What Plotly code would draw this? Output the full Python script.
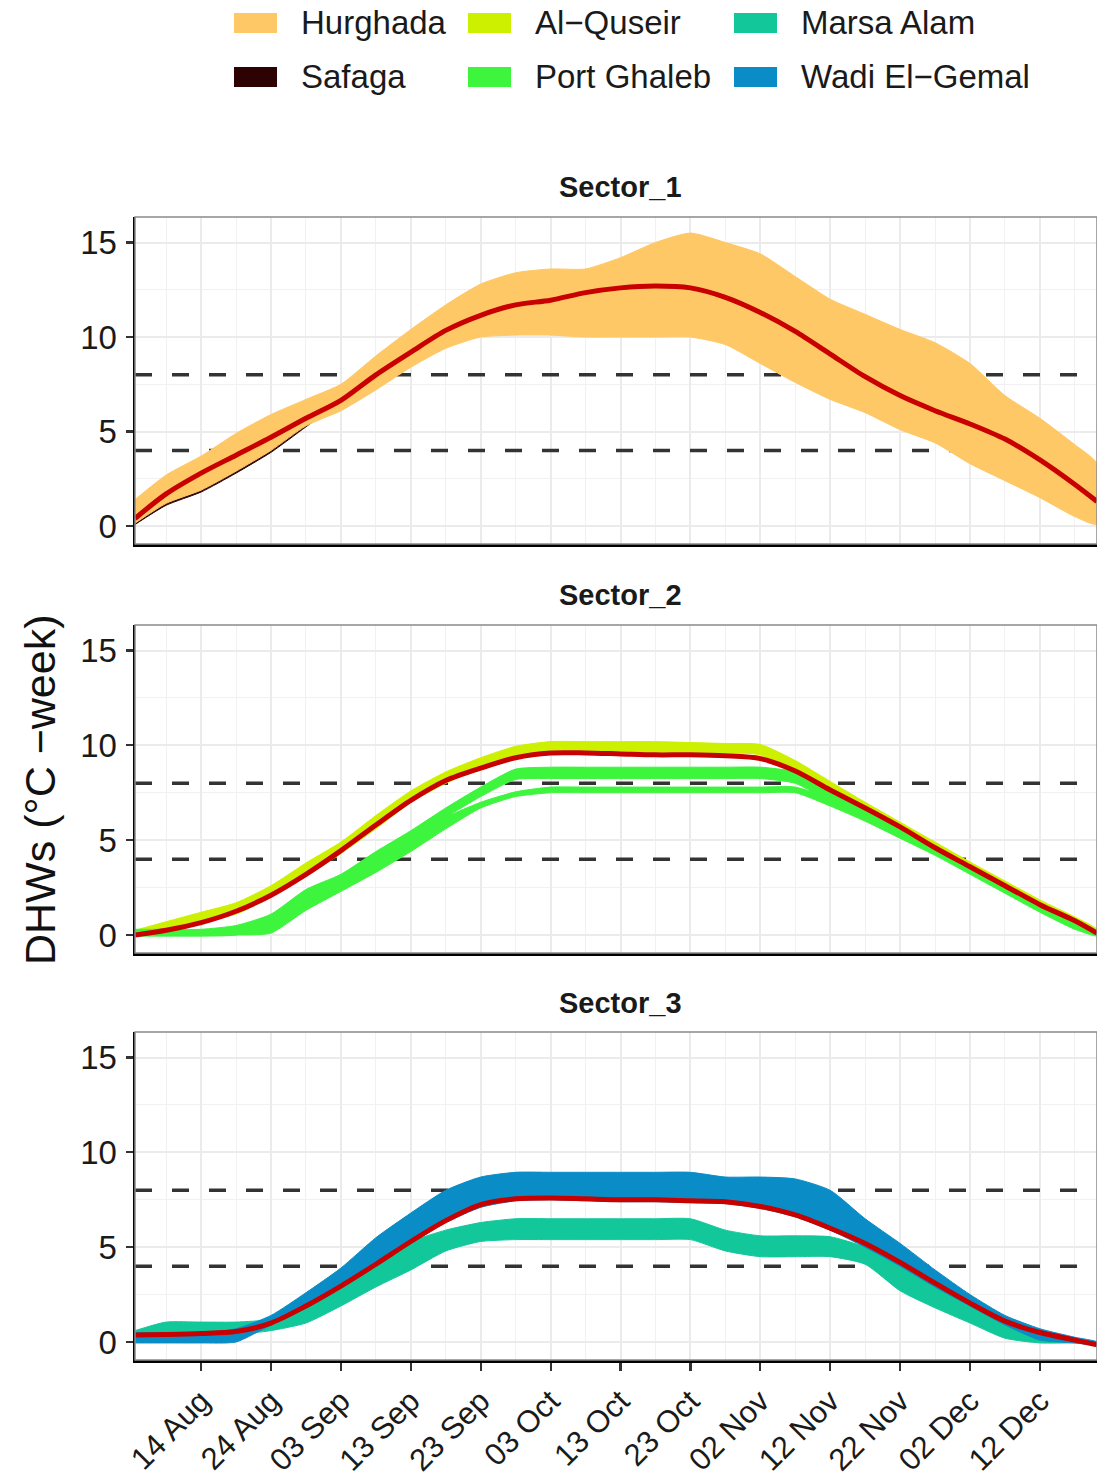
import plotly.graph_objects as go

# ---------------- data ----------------
DATES = ["2020-08-04 13:00", "2020-08-09", "2020-08-14", "2020-08-19", "2020-08-24",
         "2020-08-29", "2020-09-03", "2020-09-08", "2020-09-13", "2020-09-18",
         "2020-09-23", "2020-09-28", "2020-10-03", "2020-10-08", "2020-10-13",
         "2020-10-18", "2020-10-23", "2020-10-28", "2020-11-02", "2020-11-07",
         "2020-11-12", "2020-11-17", "2020-11-22", "2020-11-27", "2020-12-02",
         "2020-12-07", "2020-12-12", "2020-12-17", "2020-12-20 04:00"]

SITES = ["Hurghada", "Safaga", "Al-Quseir", "Port Ghaleb", "Marsa Alam", "Wadi El-Gemal"]
SITE_LABELS = ["Hurghada", "Safaga", "Al\u2212Quseir", "Port Ghaleb", "Marsa Alam", "Wadi El\u2212Gemal"]
SITE_COLORS = ["#FEC866", "#2E0202", "#CDF000", "#3DF53D", "#12C89B", "#0A8CC6"]

SECTORS = ["Sector_1", "Sector_2", "Sector_3"]
THRESHOLDS = [4, 8]
Y_TICKS = [0, 5, 10, 15]
Y_MINOR = [2.5, 7.5, 12.5]
X_TICKS = ["2020-08-14", "2020-08-24", "2020-09-03", "2020-09-13", "2020-09-23",
           "2020-10-03", "2020-10-13", "2020-10-23", "2020-11-02", "2020-11-12",
           "2020-11-22", "2020-12-02", "2020-12-12"]
X_TICK_TEXT = ["14 Aug", "24 Aug", "03 Sep", "13 Sep", "23 Sep", "03 Oct", "13 Oct",
               "23 Oct", "02 Nov", "12 Nov", "22 Nov", "02 Dec", "12 Dec"]

# Sector_1
HURGHADA_LO = [0.15, 1.2, 1.9, 2.9, 4.0, 5.3, 6.1, 7.2, 8.4, 9.4, 10.0, 10.1, 10.1, 10.0, 10.0,
               10.0, 10.0, 9.6, 8.6, 7.6, 6.7, 6.0, 5.1, 4.4, 3.3, 2.4, 1.5, 0.5, 0.1]
HURGHADA_HI = [1.4, 2.7, 3.7, 4.9, 5.9, 6.7, 7.5, 9.0, 10.4, 11.7, 12.8, 13.4, 13.6, 13.6, 14.2,
               15.0, 15.5, 15.0, 14.4, 13.2, 12.0, 11.2, 10.4, 9.7, 8.6, 6.9, 5.7, 4.3, 3.3]
SAFAGA_LO = [0.08, 1.1, 1.8, 2.8, 3.9, 5.25, 6.6, 7.7, 8.9, 9.9, 10.3, 10.4, 10.4, 10.4, 10.4,
             10.4, 10.4, 10.0, 9.0, 8.0, 7.1, 6.4, 5.5, 4.8, 3.7, 2.8, 1.9, 0.9, 0.4]
SAFAGA_HI = [0.35, 1.3, 2.0, 3.0, 4.1, 5.45, 6.9, 8.0, 9.2, 10.2, 10.6, 10.7, 10.7, 10.7, 10.7,
             10.7, 10.7, 10.3, 9.3, 8.3, 7.4, 6.7, 5.8, 5.1, 4.0, 3.1, 2.2, 1.2, 0.7]
MEAN_S1 = [0.4, 1.7, 2.8, 3.75, 4.7, 5.7, 6.65, 8.0, 9.2, 10.35, 11.15, 11.7, 11.95, 12.35, 12.6,
           12.7, 12.6, 12.1, 11.3, 10.3, 9.1, 7.9, 6.9, 6.1, 5.4, 4.6, 3.5, 2.2, 1.3]

# Sector_2
ALQUSEIR_LO = [0.0, 0.3, 0.7, 1.1, 2.0, 3.1, 4.3, 5.6, 7.0, 8.0, 8.8, 9.4, 9.6, 9.6, 9.6,
               9.6, 9.6, 9.6, 9.5, 8.5, 7.6, 6.5, 5.5, 4.4, 3.4, 2.4, 1.4, 0.55, 0.0]
ALQUSEIR_HI = [0.25, 0.7, 1.2, 1.7, 2.6, 3.8, 4.9, 6.3, 7.6, 8.6, 9.35, 9.95, 10.2, 10.2, 10.2,
               10.2, 10.15, 10.1, 10.05, 9.2, 8.1, 7.0, 5.95, 4.9, 3.85, 2.85, 1.85, 0.95, 0.3]
PORTGHALEB_A_LO = [-0.05, -0.05, -0.05, 0.0, 0.6, 1.8, 2.8, 3.9, 5.0, 6.2, 7.3, 8.2, 8.25, 8.25, 8.25,
                   8.25, 8.25, 8.25, 8.25, 8.0, 7.0, 6.1, 5.2, 4.3, 3.3, 2.3, 1.3, 0.5, 0.0]
PORTGHALEB_A_HI = [0.3, 0.3, 0.3, 0.5, 1.1, 2.4, 3.2, 4.4, 5.5, 6.7, 7.8, 8.75, 8.85, 8.85, 8.85,
                   8.85, 8.85, 8.85, 8.85, 8.6, 7.6, 6.7, 5.7, 4.7, 3.6, 2.6, 1.6, 0.8, 0.2]
PORTGHALEB_B_LO = [-0.05, -0.05, -0.05, 0.0, 0.1, 1.3, 2.3, 3.3, 4.4, 5.6, 6.7, 7.3, 7.5, 7.5, 7.5,
                   7.5, 7.5, 7.5, 7.5, 7.5, 6.8, 6.0, 5.1, 4.2, 3.2, 2.2, 1.2, 0.3, -0.05]
PORTGHALEB_B_HI = [0.2, 0.2, 0.2, 0.3, 0.6, 1.8, 2.8, 3.9, 5.0, 6.2, 7.0, 7.55, 7.8, 7.8, 7.8,
                   7.8, 7.8, 7.8, 7.8, 7.8, 7.2, 6.4, 5.5, 4.6, 3.5, 2.5, 1.5, 0.6, 0.15]
MEAN_S2 = [0.0, 0.25, 0.65, 1.25, 2.1, 3.2, 4.45, 5.8, 7.1, 8.15, 8.8, 9.35, 9.6, 9.6, 9.55,
           9.5, 9.5, 9.45, 9.3, 8.65, 7.65, 6.7, 5.7, 4.6, 3.6, 2.6, 1.6, 0.75, 0.1]

# Sector_3
MARSA_LO = [0.3, 0.4, 0.4, 0.4, 0.6, 1.0, 1.9, 2.9, 3.8, 4.8, 5.3, 5.4, 5.4, 5.4, 5.4,
            5.4, 5.4, 4.8, 4.5, 4.5, 4.5, 4.1, 2.7, 1.8, 1.0, 0.2, -0.05, -0.05, -0.1]
MARSA_HI = [0.6, 1.05, 1.05, 1.05, 1.2, 1.9, 3.1, 4.3, 5.3, 5.9, 6.3, 6.5, 6.5, 6.5, 6.5,
            6.5, 6.5, 5.9, 5.6, 5.6, 5.55, 5.0, 4.0, 3.0, 2.0, 1.1, 0.45, 0.15, 0.0]
WADI_LO = [-0.05, -0.05, -0.05, 0.0, 0.9, 1.8, 2.9, 4.0, 5.2, 6.3, 7.1, 7.45, 7.5, 7.45, 7.4,
           7.4, 7.35, 7.3, 7.05, 6.6, 5.9, 5.0, 4.0, 2.9, 1.9, 0.9, 0.1, -0.05, -0.15]
WADI_HI = [0.5, 0.5, 0.5, 0.7, 1.4, 2.6, 3.9, 5.5, 6.8, 8.0, 8.7, 8.95, 8.95, 8.95, 8.95,
           8.95, 8.95, 8.7, 8.7, 8.6, 8.0, 6.5, 5.2, 3.8, 2.5, 1.4, 0.7, 0.25, 0.0]
MEAN_S3 = [0.37, 0.4, 0.45, 0.55, 1.0, 1.9, 2.95, 4.1, 5.3, 6.4, 7.25, 7.55, 7.6, 7.55, 7.5,
           7.5, 7.45, 7.4, 7.15, 6.7, 6.0, 5.2, 4.2, 3.1, 2.05, 1.1, 0.5, 0.1, -0.15]

# ---------------- layout constants ----------------
W, H = 1097, 1481
FONT = "Liberation Sans, Arial, sans-serif"
X_RANGE = ["2020-08-04 13:00", "2020-12-20 04:00"]
Y_RANGE = [-0.95, 16.35]
PLOT_LEFT = 135
PANEL_PX = [(217, 544), (625, 953), (1032, 1360)]  # top, bottom in pixels
STRIP_Y = [187, 595, 1003]
MEAN_COLOR = "#C80000"

color_of = dict(zip(SITES, SITE_COLORS))

SECTOR_BANDS = [
    [("Safaga", SAFAGA_LO, SAFAGA_HI), ("Hurghada", HURGHADA_LO, HURGHADA_HI)],
    [("Al-Quseir", ALQUSEIR_LO, ALQUSEIR_HI), ("Port Ghaleb", PORTGHALEB_B_LO, PORTGHALEB_B_HI),
     ("Port Ghaleb", PORTGHALEB_A_LO, PORTGHALEB_A_HI)],
    [("Marsa Alam", MARSA_LO, MARSA_HI), ("Wadi El-Gemal", WADI_LO, WADI_HI)],
]
SECTOR_MEANS = [MEAN_S1, MEAN_S2, MEAN_S3]

fig = go.Figure()

for i in range(3):
    sfx = "" if i == 0 else str(i + 1)
    xa, ya = "x" + sfx, "y" + sfx
    # threshold lines (below the site bands)
    for t in THRESHOLDS:
        fig.add_trace(go.Scatter(x=X_RANGE, y=[t, t], mode="lines", xaxis=xa, yaxis=ya,
                                 line=dict(color="#333333", width=3.5, dash="17px,20px"),
                                 showlegend=False, hoverinfo="skip"))
    # site bands
    for site, lo, hi in SECTOR_BANDS[i]:
        c = color_of[site]
        fig.add_trace(go.Scatter(x=DATES + DATES[::-1], y=hi + lo[::-1], mode="lines",
                                 fill="toself", fillcolor=c,
                                 line=dict(color=c, width=1, shape="spline", smoothing=0.6),
                                 xaxis=xa, yaxis=ya, name=site, showlegend=False,
                                 hoverinfo="skip"))
    # sector mean (smooth)
    fig.add_trace(go.Scatter(x=DATES, y=SECTOR_MEANS[i], mode="lines", xaxis=xa, yaxis=ya,
                             line=dict(color=MEAN_COLOR, width=5, shape="spline", smoothing=0.8),
                             showlegend=False, name=SECTORS[i] + " mean", hoverinfo="skip"))

layout = dict(width=W, height=H, autosize=False, margin=dict(l=0, r=0, t=0, b=0),
              paper_bgcolor="white", plot_bgcolor="white", hovermode=False,
              font=dict(family=FONT, color="#1a1a1a"), showlegend=False)

shapes, annotations = [], []
for i in range(3):
    sfx = "" if i == 0 else str(i + 1)
    top, bot = PANEL_PX[i]
    ydom = [1 - bot / H, 1 - top / H]
    last = (i == 2)
    layout["xaxis" + sfx] = dict(
        type="date", domain=[PLOT_LEFT / W, 1], range=X_RANGE, anchor="y" + sfx,
        tickvals=X_TICKS, ticktext=X_TICK_TEXT, showticklabels=last,
        ticks="outside" if last else "", ticklen=8, tickwidth=2.2, tickcolor="#333333",
        tickangle=-45, tickfont=dict(size=31, family=FONT, color="#1a1a1a"),
        showgrid=True, gridcolor="#EBEBEB", gridwidth=2,
        minor=dict(dtick=5 * 86400000, tick0="2020-08-09", showgrid=True,
                   gridcolor="#F1F1F1", gridwidth=1, ticks=""),
        showline=True, linecolor="black", linewidth=2.5, zeroline=False, automargin=False)
    layout["yaxis" + sfx] = dict(
        domain=ydom, range=Y_RANGE, anchor="x" + sfx, tickvals=Y_TICKS,
        ticks="outside", ticklen=7, tickwidth=2.2, tickcolor="#333333",
        ticklabelstandoff=2,
        tickfont=dict(size=33, family=FONT, color="#1a1a1a"),
        showgrid=True, gridcolor="#EBEBEB", gridwidth=2,
        minor=dict(tickvals=Y_MINOR, showgrid=True, gridcolor="#F1F1F1", gridwidth=1, ticks=""),
        showline=True, linecolor="black", linewidth=2.5, zeroline=False, automargin=False)
    # panel border (theme_bw)
    shapes.append(dict(type="rect", xref="paper", yref="paper", x0=PLOT_LEFT / W, x1=1,
                       y0=ydom[0], y1=ydom[1], line=dict(color="#8A8A8A", width=1.5),
                       layer="above"))
    # strip label
    annotations.append(dict(text="<b>" + SECTORS[i] + "</b>", xref="paper", yref="paper",
                            x=620 / W, y=1 - STRIP_Y[i] / H, xanchor="center", yanchor="middle",
                            showarrow=False, font=dict(size=29, family=FONT, color="#1a1a1a")))

# y-axis title
annotations.append(dict(text="DHWs (\u00b0C \u2212week)", xref="paper", yref="paper",
                        x=40 / W, y=1 - 790 / H, textangle=-90, xanchor="center",
                        yanchor="middle", showarrow=False,
                        font=dict(size=43, family=FONT, color="#111111")))

# legend (ggplot style, 3 columns x 2 rows, filled by column)
LEG_COL_X = [234, 468, 734]
LEG_ROW_Y = [23, 77]
for k, (lab, c) in enumerate(zip(SITE_LABELS, SITE_COLORS)):
    col, row = k // 2, k % 2
    x0 = LEG_COL_X[col]
    yc = LEG_ROW_Y[row]
    shapes.append(dict(type="rect", xref="paper", yref="paper",
                       x0=x0 / W, x1=(x0 + 43) / W, y0=1 - (yc + 10) / H, y1=1 - (yc - 10) / H,
                       fillcolor=c, line=dict(width=0)))
    annotations.append(dict(text=lab, xref="paper", yref="paper", x=(x0 + 65) / W,
                            y=1 - yc / H, xanchor="left", yanchor="middle", showarrow=False,
                            font=dict(size=33, family=FONT, color="#1a1a1a")))

layout["shapes"] = shapes
layout["annotations"] = annotations
fig.update_layout(**layout)

fig.write_html("out.html", config={"displayModeBar": False, "staticPlot": True},
               post_script="document.body.style.margin='0px';document.body.style.overflow='hidden';")
